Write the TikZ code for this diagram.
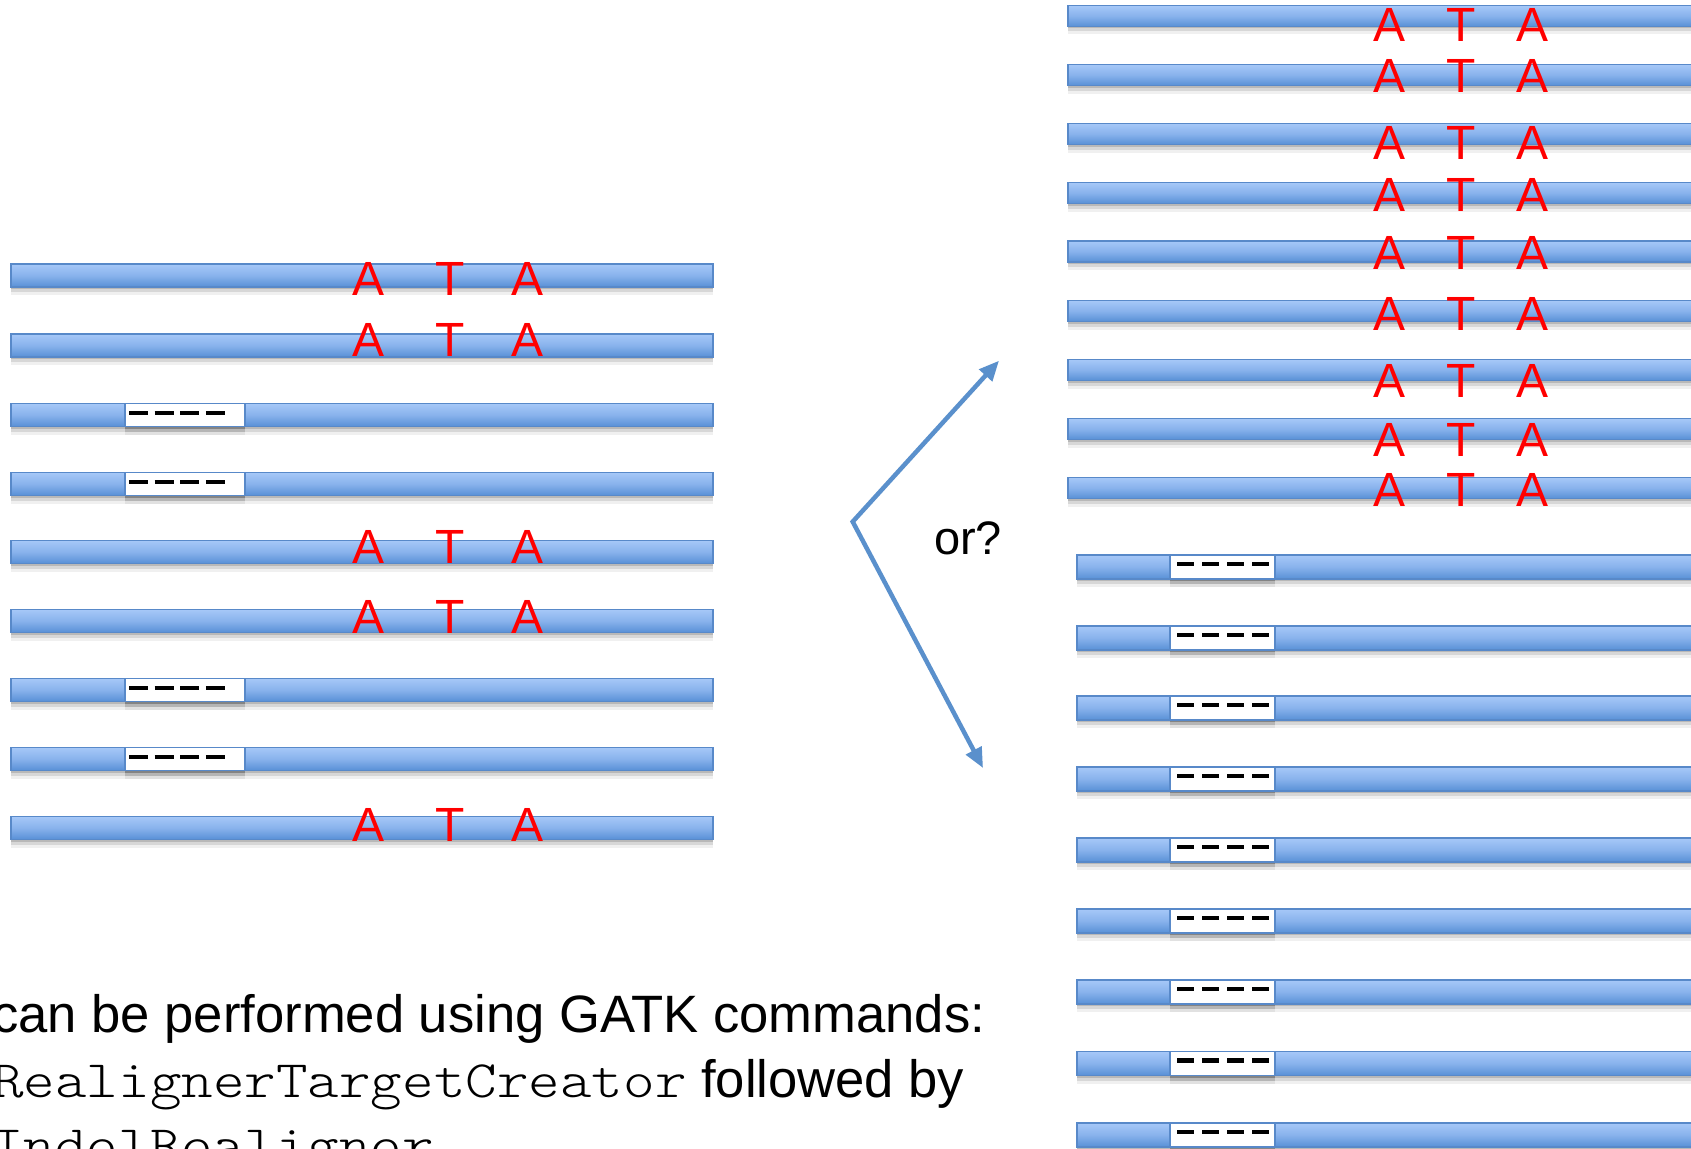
\documentclass[tikz,border=0pt]{standalone}
\usepackage{fontspec}
\setmainfont{Liberation Sans}
\newfontfamily\cour[FakeStretch=1.143]{lmmonolt10-regular.otf}
\usetikzlibrary{arrows.meta,shadows}
\definecolor{bartop}{HTML}{A6C8F8}
\definecolor{barmid}{HTML}{88B2EC}
\definecolor{barbot}{HTML}{5890D6}
\definecolor{barline}{HTML}{5889C9}
\definecolor{arrowblue}{HTML}{5A90CC}
\definecolor{letterred}{HTML}{FF0000}
\begin{document}
\begin{tikzpicture}[x=1pt,y=-1pt,
  barbase/.style={rectangle, inner sep=0pt, outer sep=0pt, draw=barline, line width=1.4pt,
     general shadow={fill=black, opacity=0.14, shadow yshift=-2pt},
     general shadow={fill=black, opacity=0.10, shadow yshift=-5pt},
     general shadow={fill=black, opacity=0.06, shadow yshift=-8pt}},
  bar/.style={barbase, top color=bartop, bottom color=barbot, middle color=barmid},
  lbar/.style={bar, minimum width=702pt, minimum height=23pt},
  rbar/.style={bar, minimum width=652pt, minimum height=21pt},
  gbar/.style={bar, minimum width=643pt, minimum height=24pt},
  lgap/.style={barbase, fill=white, minimum width=120pt, minimum height=23pt},
  rgap/.style={barbase, fill=white, minimum width=105pt, minimum height=24pt},
  base/.style={text=letterred, anchor=base, inner sep=0pt, font=\fontsize{48}{48}\selectfont},
  ldash/.style={line width=4.5pt, black, dash pattern=on 19pt off 6.6pt},
  rdash/.style={line width=4.5pt, black, dash pattern=on 17pt off 8pt},
  arr/.style={arrowblue, line width=4.5pt, line join=miter,
     {Triangle[length=20pt,width=17pt]}-{Triangle[length=20pt,width=17pt]}},
  txt/.style={anchor=base west, inner sep=0pt, font=\fontsize{52.6}{63}\selectfont}
]
\useasboundingbox (0,0) rectangle (1691,1148);
\fill[white] (0,0) rectangle (1691,1148);
\begin{scope}
\clip (0,0) rectangle (1691,1148);

% left reads
\foreach \i/\y in {1/275.5,2/345.5,3/415,4/484,5/552,6/621,7/690,8/759,9/828}
  \node[lbar] (L\i) at (362,\y) {};
\foreach \i/\b in {1/295,2/356,5/563,6/633,9/841} {
  \node[base] (LA\i) at (368.5,\b) {A};
  \node[base] (LT\i) at (450,\b) {T};
  \node[base] (LB\i) at (528,\b) {A};
}
\foreach \i/\y in {3/415,4/484,7/690,8/759} {
  \node[lgap] (LG\i) at (185,\y) {};
  \draw[ldash] ([xshift=4pt,yshift=2pt]LG\i.west) -- ++(96,0);
}

% right reads with ATA
\foreach \i/\y in {1/16,2/75,3/134,4/193,5/251.5,6/311,7/370,8/429,9/488}
  \node[rbar] (R\i) at (1394,\y) {};
\foreach \i/\b in {1/42,2/92.5,3/159.5,4/211,5/269.5,6/330,7/397,8/456,9/506} {
  \node[base] (RA\i) at (1389,\b) {A};
  \node[base] (RT\i) at (1461,\b) {T};
  \node[base] (RB\i) at (1532,\b) {A};
}

% right reads with deletion
\foreach \i/\y in {1/567,2/638,3/708,4/779,5/850,6/921,7/992,8/1063.5,9/1135} {
  \node[gbar] (D\i) at (1398.5,\y) {};
  \node[rgap] (DG\i) at (1222.5,\y) {};
  \draw[rdash] ([xshift=7pt,yshift=3pt]DG\i.west) -- ++(92,0);
}

% arrows
\coordinate (av) at (852.7,521.7);
\coordinate (au) at (999,360.7);
\coordinate (ad) at (983,768);
\draw[arr] (au) -- (av) -- (ad);
\node[anchor=base west, inner sep=0pt, font=\fontsize{47}{47}\selectfont] (or) at (934,554) {or?};

% bottom text
\node[txt] (t1) at (-8,1032) {can be performed using GATK commands:};
\node[txt] (t2) at (-8,1097) {{\cour RealignerTargetCreator} followed by};
\node[txt] (t3) at (-8,1162) {{\cour IndelRealigner}};
\end{scope}
\end{tikzpicture}
\end{document}
